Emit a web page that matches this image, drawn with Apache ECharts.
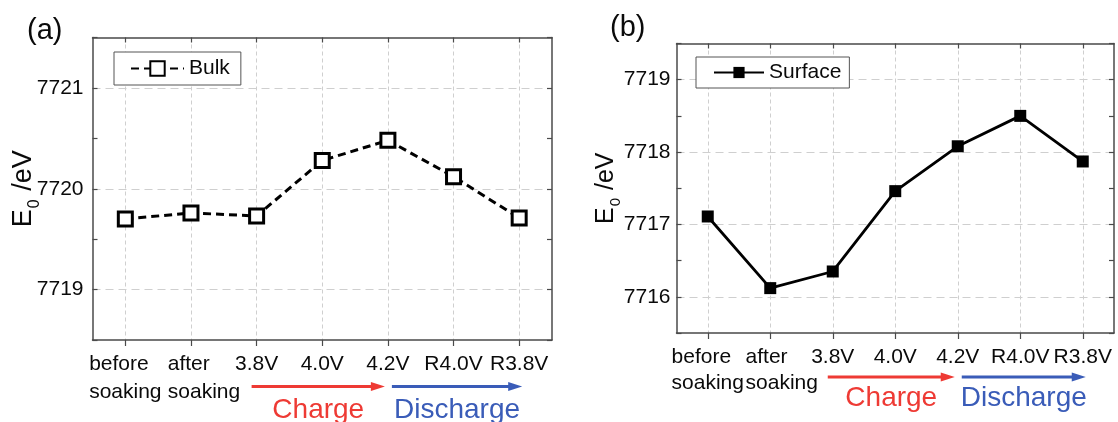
<!DOCTYPE html>
<html><head><meta charset="utf-8">
<script src="https://cdn.jsdelivr.net/npm/echarts@6/dist/echarts.min.js"></script>
<style>html,body{margin:0;padding:0;background:#fff}#c{width:1118px;height:422px}</style>
</head><body><div id="c"></div>
<script>
const categories = ['before\nsoaking', 'after\nsoaking', '3.8V', '4.0V', '4.2V', 'R4.0V', 'R3.8V'];
const bulkValues = [7719.70, 7719.76, 7719.73, 7720.28, 7720.48, 7720.12, 7719.71];
const surfaceValues = [7717.11, 7716.12, 7716.35, 7717.46, 7718.08, 7718.50, 7717.87];
const bulkRange = [7718.5, 7721.5];
const surfaceRange = [7715.5, 7719.5];
const bulkTickLabels = [7719, 7720, 7721];
const surfaceTickLabels = [7716, 7717, 7718, 7719];
const panelTitles = ['(a)', '(b)'];
const seriesNames = ['Bulk', 'Surface'];
const arrowTexts = ['Charge', 'Discharge'];

const FONT = '"Liberation Sans", Arial, sans-serif';
const AX = '#4a4a4a';
const RED = '#ee3a34';
const BLUE = '#3a5cb8';
const TXT = '#0a0a0a';

function makeAxes(g, range, ticks, labelMargin, lineH, padAfter, nameSize, nameGap) {
  const xMain = {
    type: 'category', gridIndex: g, data: categories, position: 'bottom',
    axisLine: {show: true, lineStyle: {color: AX, width: 1.5}},
    axisTick: {show: true, alignWithLabel: true, inside: false, length: 6, lineStyle: {color: AX, width: 1.2}},
    splitLine: {show: true, alignWithLabel: true, lineStyle: {color: '#cfcfcf', width: 1, type: [4, 3]}},
    axisLabel: {
      show: true, interval: 0, margin: labelMargin, color: TXT, fontSize: 21, fontFamily: FONT,
      lineHeight: lineH,
      formatter: function (v, i) {
        if (v.indexOf('\n') < 0) return v;
        const st = i === 0 ? 'l' : 'p';
        return v.split('\n').map(s => '{' + st + '|' + s + '}').join('\n');
      },
      rich: {
        l: {fontSize: 21, fontFamily: FONT, color: TXT, lineHeight: lineH, align: 'left'},
        p: {fontSize: 21, fontFamily: FONT, color: TXT, lineHeight: lineH, align: 'left', padding: [0, 0, 0, padAfter]}
      }
    }
  };
  const xTop = {
    type: 'category', gridIndex: g, data: categories, position: 'top',
    axisLine: {show: true, lineStyle: {color: AX, width: 1.5}},
    axisTick: {show: true, alignWithLabel: true, inside: true, length: 5, lineStyle: {color: AX, width: 1.2}},
    axisLabel: {show: false}, splitLine: {show: false}
  };
  const yMain = {
    type: 'value', gridIndex: g, min: range[0], max: range[1], interval: 0.5, position: 'left',
    name: '{e|E}{s|0}{e| /eV}', nameLocation: 'middle', nameGap: nameGap, nameRotate: 90,
    nameMoveOverlap: false,
    nameTextStyle: {
      rich: {
        e: {fontSize: nameSize, fontFamily: FONT, color: TXT},
        s: {fontSize: Math.round(nameSize * 0.6), fontFamily: FONT, color: TXT, verticalAlign: 'bottom', padding: [0, 1, -5, 1]}
      }
    },
    axisLine: {show: true, lineStyle: {color: AX, width: 1.5}},
    axisTick: {show: true, inside: true, length: 5, lineStyle: {color: AX, width: 1.2}},
    splitLine: {show: true, lineStyle: {color: ['rgba(0,0,0,0)', '#cfcfcf'], width: 1, type: [8, 5]}},
    axisLabel: {
      margin: g === 0 ? 9 : 6, color: TXT, fontSize: 21, fontFamily: FONT,
      formatter: v => (ticks.indexOf(Math.round(v * 10) / 10) >= 0 ? String(Math.round(v)) : '')
    }
  };
  const yRight = {
    type: 'value', gridIndex: g, min: range[0], max: range[1], interval: 0.5, position: 'right',
    axisLine: {show: true, lineStyle: {color: AX, width: 1.5}},
    axisTick: {show: true, inside: true, length: 5, lineStyle: {color: AX, width: 1.2}},
    splitLine: {show: false}, axisLabel: {show: false}
  };
  return {x: [xMain, xTop], y: [yMain, yRight]};
}

const A = makeAxes(0, bulkRange, bulkTickLabels, 10, 28, 26, 27, 55);
const B = makeAxes(1, surfaceRange, surfaceTickLabels, 11, 26, 23, 25, 58);

const chart = echarts.init(document.getElementById('c'), null, {renderer: 'canvas'});
const option = {
  animation: false,
  backgroundColor: '#fff',
  textStyle: {fontFamily: FONT},
  title: [
    {text: panelTitles[0], left: 27, top: 16, padding: 0, textStyle: {fontSize: 29, fontWeight: 'normal', color: TXT, fontFamily: FONT}},
    {text: panelTitles[1], left: 610, top: 13, padding: 0, textStyle: {fontSize: 29, fontWeight: 'normal', color: TXT, fontFamily: FONT}}
  ],
  grid: [
    {left: 92.5, top: 37.5, right: 1118 - 552, bottom: 422 - 340, containLabel: false},
    {left: 676.5, top: 43.5, right: 1118 - 1114, bottom: 422 - 333, containLabel: false}
  ],
  legend: [
    {data: [seriesNames[0]], left: 114, top: 52, orient: 'horizontal', padding: [6, 11, 6, 16],
     itemWidth: 53, itemHeight: 18, borderColor: '#555', borderWidth: 1, backgroundColor: '#fff', borderRadius: 0,
     textStyle: {fontSize: 21, color: TXT, fontFamily: FONT}},
    {data: [seriesNames[1]], left: 696, top: 57, orient: 'horizontal', padding: [5, 8, 5, 17],
     itemWidth: 50, itemHeight: 14, borderColor: '#555', borderWidth: 1, backgroundColor: '#fff', borderRadius: 0,
     textStyle: {fontSize: 21, color: TXT, fontFamily: FONT}}
  ],
  xAxis: [A.x[0], A.x[1], B.x[0], B.x[1]],
  yAxis: [A.y[0], A.y[1], B.y[0], B.y[1]],
  series: [
    {name: seriesNames[0], type: 'line', xAxisIndex: 0, yAxisIndex: 0, data: bulkValues,
     symbol: 'rect', symbolSize: 14,
     lineStyle: {color: '#000', width: 3, type: [8, 5]},
     itemStyle: {color: '#fff', borderColor: '#000', borderWidth: 3}, z: 5},
    {name: seriesNames[1], type: 'line', xAxisIndex: 2, yAxisIndex: 2, data: surfaceValues,
     symbol: 'rect', symbolSize: 12,
     lineStyle: {color: '#000', width: 2.8, type: 'solid'},
     itemStyle: {color: '#000', borderColor: '#000', borderWidth: 0}, z: 5}
  ]
};
chart.setOption(option);

function arrowGroup(gridIndex, fromIdx, fromOff, toIdx, toOff, y, color) {
  const p1 = chart.convertToPixel({gridIndex: gridIndex}, [fromIdx, 0]);
  const p2 = chart.convertToPixel({gridIndex: gridIndex}, [toIdx, 0]);
  const x1 = p1[0] + fromOff, x2 = p2[0] + toOff;
  return {
    mid: (x1 + x2) / 2,
    els: [
      {type: 'line', shape: {x1: x1, y1: y, x2: x2 - 10, y2: y}, style: {stroke: color, lineWidth: 2.8}, silent: true},
      {type: 'polygon', shape: {points: [[x2 - 14, y - 4.5], [x2, y], [x2 - 14, y + 4.5]]}, style: {fill: color}, silent: true}
    ]
  };
}
const els = [];
function addArrows(gridIndex, y, ty, fs) {
  const r = arrowGroup(gridIndex, 2, -5, 4, -3, y, RED);
  const b = arrowGroup(gridIndex, 4, 4, 6, 3, y, BLUE);
  els.push(...r.els, ...b.els);
  els.push({type: 'text', x: r.mid, y: ty, style: {text: arrowTexts[0], fill: RED, font: fs + 'px ' + FONT, align: 'center', verticalAlign: 'middle'}, silent: true});
  els.push({type: 'text', x: b.mid, y: ty, style: {text: arrowTexts[1], fill: BLUE, font: fs + 'px ' + FONT, align: 'center', verticalAlign: 'middle'}, silent: true});
}
addArrows(0, 386.5, 410, 28);
addArrows(1, 377, 398, 28);
chart.setOption({graphic: els});
</script>
</body></html>
